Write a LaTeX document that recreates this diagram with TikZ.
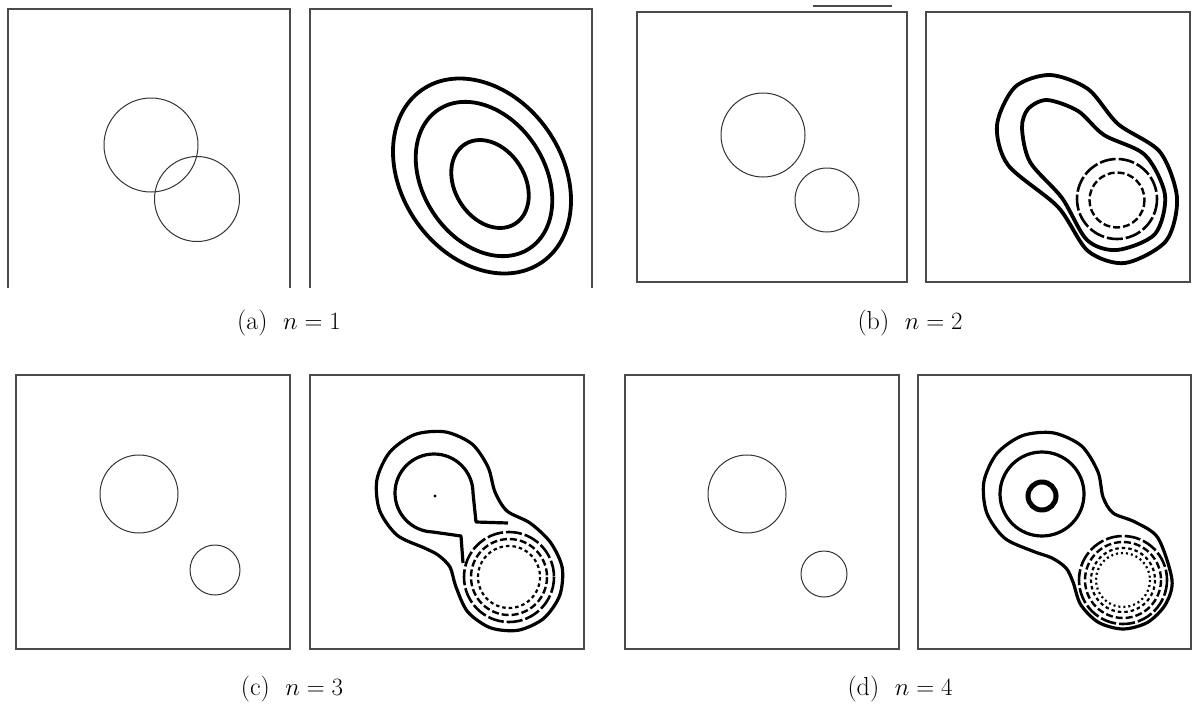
\documentclass[tikz,border=0pt]{standalone}
\usepackage{tikz}
\usetikzlibrary{positioning}
\definecolor{figink}{HTML}{000000}
\definecolor{figframe}{HTML}{4A4A4A}
\definecolor{figthin}{HTML}{333333}

\begin{document}
\begin{tikzpicture}[x=1pt, y=-1pt,
  frame/.style={draw=figframe, line width=1.6pt},
  disc/.style={draw=figthin, line width=1pt},
  lvl/.style={draw=figink, line width=3.8pt, line join=round},
  lvlb/.style={lvl, line width=3.2pt},
  dashA/.style={draw=figink, line width=2.6pt, dash pattern=on 16pt off 3pt},
  dashB/.style={draw=figink, line width=2.4pt, dash pattern=on 7pt off 3pt},
  dashC/.style={draw=figink, line width=2.2pt, dash pattern=on 3.5pt off 3pt},
  dashD/.style={draw=figink, line width=2.2pt, dash pattern=on 2pt off 3pt},
  subcap/.style={font=\fontsize{26}{30}\selectfont, inner sep=0pt}]
\useasboundingbox (0,0) rectangle (1193,704);
% (a)
\draw[frame] (8,288) -- (8,9) -- (290,9) -- (290,288);
\draw[frame] (310,288) -- (310,9) -- (592,9) -- (592,288);
\draw[disc] (151,145) circle (47);
\draw[disc] (197,199) circle (42.5);
\draw[lvl, rotate around={-55:(482,176)}] (482,176) ellipse (105 and 80);
\draw[lvl, rotate around={-57:(484,179)}] (484,179) ellipse (83 and 61);
\draw[lvl, rotate around={-58:(490,184)}] (490,184) ellipse (47 and 35);
\node[subcap] (capa) at (289,323) {(a)\hspace{0.6em}$n=1$};
% (b)
\draw[frame] (813,6) -- (892,6);
\draw[frame] (637,12) rectangle (907,282);
\draw[frame] (926,12) rectangle (1190,282);
\draw[disc] (763,135) circle (42);
\draw[disc] (827,200) circle (32);
\draw[lvl] plot[smooth cycle] coordinates {(1050,75) (1088,89) (1118,124) (1160,152) (1177,198) (1166,241) (1125,263) (1088,251) (1058,207) (1008,165) (997,125) (1015,87)};
\draw[lvl] plot[smooth cycle] coordinates {(1047,100) (1078,111) (1104,135) (1145,155) (1165,195) (1155,234) (1117,250) (1087,240) (1062,198) (1030,162) (1022,128) (1028,109)};
\draw[dashA] (1117,199) circle (40);
\draw[dashB] (1117,200) circle (27.5);
\node[subcap] (capb) at (910,323) {(b)\hspace{0.6em}$n=2$};
% (c)
\draw[frame] (16,375) rectangle (290,649);
\draw[frame] (310,375) rectangle (584,649);
\draw[disc] (139,494) circle (39);
\draw[disc] (215,570) circle (25);
\draw[lvlb] plot[smooth cycle] coordinates {(424.7,548.1) (397.1,535.2) (379.5,510.2) (376.9,479.8) (389.8,452.1) (414.8,434.5) (445.3,431.9) (472,444) (488,467) (495,492) (507,511) (530,523) (550.4,542.3) (562.2,567.6) (559.7,595.5) (543.7,618.4) (518.4,630.2) (490.5,627.8) (467.6,611.7) (455.8,586.4) (450,567) (438,555)};
\draw[lvlb] (508,523) -- (476,522) -- (473,493) arc[start angle=0, end angle=-268, radius=39] -- (461,536) -- (463,563);
\draw[dashA] (509,577) circle (45);
\draw[dashB] (509,577) circle (38);
\draw[dashC] (509,577) circle (31);
\fill[figink] (435,496) circle (1.6);
\node[subcap] (capc) at (292,689) {(c)\hspace{0.6em}$n=3$};
% (d)
\draw[frame] (625,375) rectangle (899,649);
\draw[frame] (918,375) rectangle (1191,649);
\draw[disc] (747,494) circle (39);
\draw[disc] (824,574) circle (23);
\draw[lvlb] plot[smooth cycle] coordinates {(1032.6,551.1) (1004.4,538.0) (986.6,512.5) (983.9,481.6) (997.0,453.4) (1022.5,435.6) (1053.4,432.9) (1081.6,446.0) (1098,472) (1103,497) (1113,513) (1135,522) (1158,538) (1172,580) (1165.4,604.5) (1147.5,622.4) (1123,629) (1098.5,622.4) (1080.6,604.5) (1073,582) (1066,568) (1052,558)};
\draw[lvlb] (1042,494) circle (42);
\draw[lvl, line width=5pt] (1042,496) circle (14);
\draw[dashA] (1123,580) circle (44);
\draw[dashB] (1123,580) circle (38);
\draw[dashC] (1123,580) circle (32);
\draw[dashD] (1123,580) circle (27);
\node[subcap] (capd) at (900,689) {(d)\hspace{0.6em}$n=4$};
\end{tikzpicture}
\end{document}
